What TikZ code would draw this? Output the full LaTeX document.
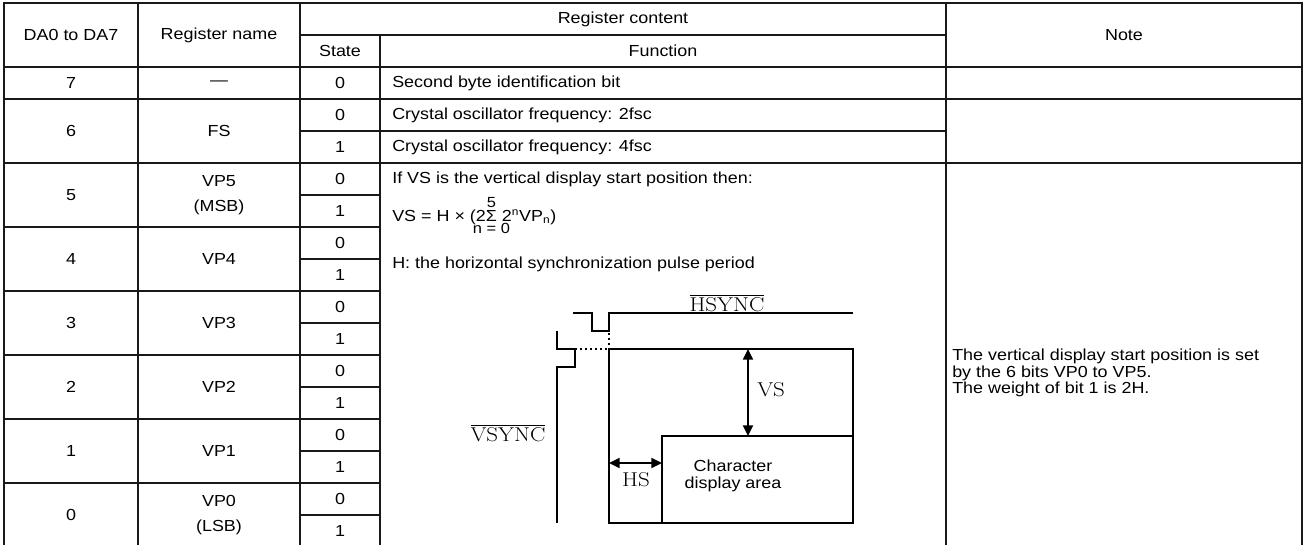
\documentclass[tikz,border=0pt]{standalone}
\usepackage{fontspec}
\setmainfont{Liberation Sans}[FakeStretch=1.12]
\newfontfamily\cmfont{Latin Modern Roman}[FakeStretch=1.15]
\usetikzlibrary{arrows.meta}

\begin{document}
\begin{tikzpicture}[x=0.75pt,y=-0.75pt,>={Triangle[length=8pt,width=7.5pt]},
  grid/.style={line width=1pt,draw=black!90},
  wave/.style={line width=1.4pt,line join=miter},
  cell/.style={font=\fontsize{12}{18.5}\selectfont,inner sep=0pt,align=center},
  txt/.style={font=\fontsize{12}{12.5}\selectfont,inner sep=0pt,anchor=west,align=left},
  sig/.style={font=\cmfont\fontsize{15}{16}\selectfont,inner sep=0pt}]
\clip (0,0) rectangle (1306,544);

% table lines
\draw[grid] (4,3) rectangle (1302,547);
\foreach \x in {138,300,946} \draw[grid] (\x,3) -- (\x,547);
\draw[grid] (380,35) -- (380,547);
\draw[grid] (300,35) -- (946,35);
\foreach \y in {67,99,163} \draw[grid] (4,\y) -- (1302,\y);
\draw[grid] (300,131) -- (946,131);
\foreach \y in {227,291,...,483} \draw[grid] (4,\y) -- (380,\y);
\foreach \y in {195,259,...,515} \draw[grid] (300,\y) -- (380,\y);

% header
\node[cell] (hda) at (71,35) {DA0 to DA7};
\node[cell] (hreg) at (219,35) {Register name};
\node[cell] (hcont) at (623,19) {Register content};
\node[cell] (hstate) at (340,51) {State};
\node[cell] (hfunc) at (663,51) {Function};
\node[cell] (hnote) at (1124,35) {Note};

% rows 7 and 6
\node[cell] (da7) at (71,83) {7};
\node[cell] (reg7) at (219,83) {—};
\node[cell] (st7) at (340,83) {0};
\node[txt] (fn7) at (392,83) {Second byte identification bit};
\node[cell] (da6) at (71,131) {6};
\node[cell] (reg6) at (219,131) {FS};
\node[cell] (st6-0) at (340,115) {0};
\node[cell] (st6-1) at (340,147) {1};
\node[txt] (fn6-0) at (392,115) {Crystal oscillator frequency: 2fsc};
\node[txt] (fn6-1) at (392,147) {Crystal oscillator frequency: 4fsc};

% rows 5 to 0
\foreach \b/\reg [count=\i from 0] in {5/{VP5\\(MSB)},4/VP4,3/VP3,2/VP2,1/VP1,0/{VP0\\(LSB)}} {
  \node[cell] (da\b) at (71,{195+64*\i}) {\b};
  \node[cell] (reg\b) at (219,{195+64*\i}) {\reg};
  \node[cell] (st\b-0) at (340,{179+64*\i}) {0};
  \node[cell] (st\b-1) at (340,{211+64*\i}) {1};
}

% function text
\node[txt] (fnif) at (392,179) {If VS is the vertical display start position then:};
\node[txt,anchor=base west] (fnvs) at (392,221) {VS = H × (2$\mathop{\hbox{Σ}}\limits^{\hbox to 0pt{\hss\fontsize{11}{11}\selectfont 5\hss}}_{\hbox to 0pt{\hss\fontsize{11}{11}\selectfont n = 0\hss}}$ 2\textsuperscript{n}VP\textsubscript{n})};
\node[txt] (fnh) at (392,264) {H: the horizontal synchronization pulse period};

% note
\node[txt] (note) at (952,373) {The vertical display start position is set\\by the 6 bits VP0 to VP5.\\The weight of bit 1 is 2H.};

% timing sketch
\coordinate (rtl) at (609,349);
\coordinate (rbr) at (853,523);
\coordinate (ctl) at (662,436);
\draw[wave] (573,313) -- (592,313) -- (592,331) -- (609,331) -- (609,313) -- (853,313);
\draw[wave] (557,331) -- (557,349) -- (575,349) -- (575,367) -- (557,367) -- (557,523);
\draw[wave] (rtl) rectangle (rbr);
\draw[wave] (ctl |- rbr) -- (ctl) -- (rbr |- ctl);
\draw[wave,dash pattern=on 1.4pt off 2.4pt] (575,349) -- (rtl);
\draw[wave,dash pattern=on 1.4pt off 2.4pt] (609,333) -- (rtl);
\draw[wave,<->] (748,349) -- (748,436);
\draw[wave,<->] (609,463) -- (662,463);
\node[sig] (hsync) at (727,303) {$\overline{\hbox{HSYNC}}$};
\node[sig] (vsync) at (508,433) {$\overline{\hbox{VSYNC}}$};
\node[sig,anchor=west] (vs) at (757,390) {VS};
\node[sig] (hs) at (636,480) {HS};
\node[txt,anchor=center,align=center] (area) at (733,476) {Character\\display area};
\end{tikzpicture}
\end{document}
